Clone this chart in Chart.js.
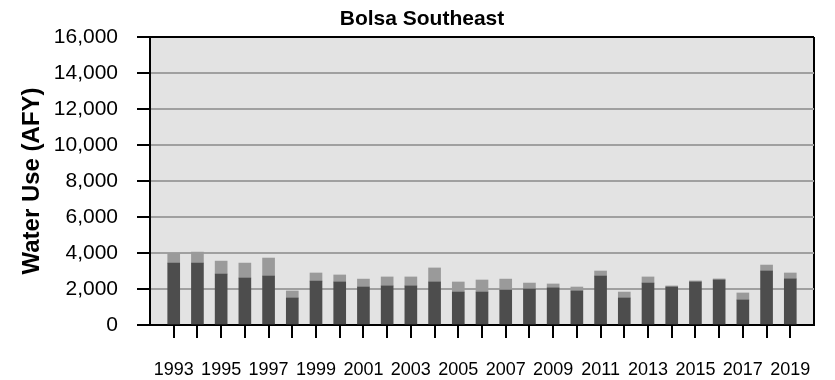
<!DOCTYPE html>
<html>
<head>
<meta charset="utf-8">
<script src="https://cdn.jsdelivr.net/npm/chart.js@4"></script>
<style>
  html, body { margin: 0; padding: 0; background: #fff; }
  #wrap { width: 835px; height: 380px; position: relative; }
</style>
</head>
<body>
<div id="wrap"><canvas id="c" width="835" height="380"></canvas></div>
<script>
const years = [1993,1994,1995,1996,1997,1998,1999,2000,2001,2002,2003,2004,2005,2006,2007,2008,2009,2010,2011,2012,2013,2014,2015,2016,2017,2018,2019];
const darkUse = [3440,3440,2830,2610,2720,1500,2440,2390,2110,2170,2170,2390,1830,1830,1940,2000,2060,1890,2720,1500,2330,2110,2390,2500,1390,3000,2560];
const lightUse = [540,610,720,830,1000,390,450,390,440,500,500,780,560,670,610,330,220,220,280,330,340,60,60,60,390,330,330];
const yTicks = [0,2000,4000,6000,8000,10000,12000,14000,16000];

const FONT = "'Liberation Sans', Arial, sans-serif";

const bgPlugin = {
  id: 'plotBg',
  beforeDraw(chart) {
    const a = chart.chartArea, ctx = chart.ctx;
    ctx.save();
    ctx.fillStyle = '#e3e3e3';
    ctx.fillRect(a.left, a.top, a.right - a.left, a.bottom - a.top);
    ctx.restore();
  }
};

new Chart(document.getElementById('c'), {
  type: 'bar',
  data: {
    datasets: [
      {
        label: 'Dark',
        data: years.map((y, i) => ({ x: y, y: darkUse[i] })),
        backgroundColor: '#4d4d4d',
        barThickness: 12
      },
      {
        label: 'Light',
        data: years.map((y, i) => ({ x: y, y: lightUse[i] })),
        backgroundColor: '#9a9a9a',
        barThickness: 12
      }
    ]
  },
  options: {
    responsive: false,
    animation: false,
    devicePixelRatio: 1,
    layout: { padding: { left: 22, right: 13, top: 0, bottom: 0 } },
    plugins: {
      legend: { display: false },
      tooltip: { enabled: false },
      title: {
        display: true,
        text: 'Bolsa Southeast',
        color: '#000',
        font: { family: FONT, size: 21, weight: 'bold', lineHeight: 1.2 },
        padding: { top: 7, bottom: 4.8 }
      }
    },
    scales: {
      x: {
        type: 'linear',
        stacked: true,
        offset: false,
        min: years[0] - 1,
        max: years[years.length - 1] + 1,
        afterBuildTicks(scale) {
          const t = [];
          for (let v = years[0] - 1; v <= years[years.length - 1] + 1; v++) t.push({ value: v });
          scale.ticks = t;
        },
        afterFit(scale) { scale.height = 55; },
        ticks: {
          autoSkip: false,
          maxRotation: 0,
          minRotation: 0,
          padding: 21,
          color: '#000',
          font: { family: FONT, size: 18 },
          callback(v) {
            return (years.includes(v) && (v - years[0]) % 2 === 0) ? String(v) : '';
          }
        },
        grid: {
          offset: false,
          drawOnChartArea: true,
          drawTicks: true,
          tickLength: 13,
          lineWidth: 2,
          color: (ctx) => (ctx.tick && ctx.tick.value === years[years.length - 1] + 1) ? '#000' : 'rgba(0,0,0,0)',
          tickColor: (ctx) => (ctx.tick && years.includes(ctx.tick.value)) ? '#000' : 'rgba(0,0,0,0)',
          tickWidth: 2
        },
        border: { display: true, color: '#000', width: 2 }
      },
      y: {
        stacked: true,
        min: 0,
        max: 16000,
        afterBuildTicks(scale) { scale.ticks = yTicks.map(v => ({ value: v })); },
        afterFit(scale) { scale.width = 128; },
        ticks: {
          padding: 19,
          color: '#000',
          font: { family: FONT, size: 21 },
          callback(v) { return v.toLocaleString('en-US'); }
        },
        title: {
          display: true,
          text: 'Water Use (AFY)',
          color: '#000',
          font: { family: FONT, size: 24, weight: 'bold', lineHeight: 1.2 },
          padding: { top: -4, bottom: 0 }
        },
        grid: {
          drawOnChartArea: true,
          drawTicks: true,
          tickLength: 13,
          lineWidth: 2,
          color: (ctx) => (ctx.tick && ctx.tick.value === 16000) ? '#000' : '#a0a0a0',
          tickColor: '#000',
          tickWidth: 2
        },
        border: { display: true, color: '#000', width: 2 }
      }
    }
  },
  plugins: [bgPlugin]
});
</script>
</body>
</html>
